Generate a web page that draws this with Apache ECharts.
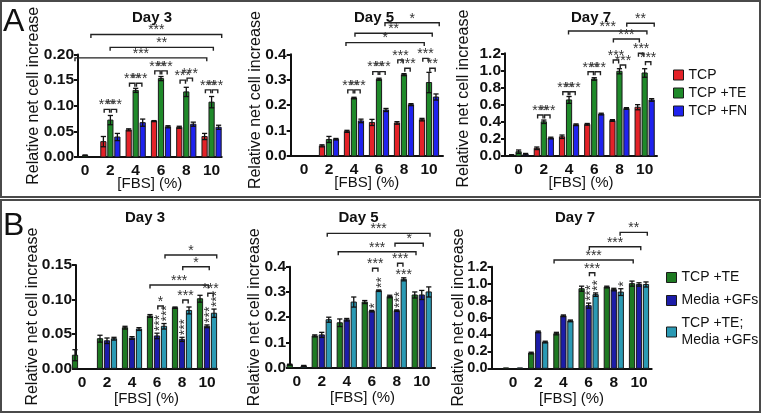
<!DOCTYPE html>
<html><head><meta charset="utf-8">
<script src="https://cdn.jsdelivr.net/npm/echarts@6/dist/echarts.min.js"></script>
<style>html,body{margin:0;padding:0;background:#fff}#c{width:762px;height:415px}</style>
</head><body><div id="c"></div>
<script>
// ---------- data ----------
const categories = ['0','2','4','6','8','10'];
const namesA = ['TCP','TCP +TE','TCP +FN'];
const namesB = ['TCP +TE','Media +GFs','TCP +TE; Media +GFs'];
const days = ['Day 3','Day 5','Day 7'];
const yTicksA3 = [0, 0.20, 0.05], yTicksA5 = [0, 0.4, 0.1], yTicksA7 = [0, 1.2, 0.2];
const yTicksB3 = [0, 0.15, 0.05], yTicksB5 = [0, 0.4, 0.1], yTicksB7 = [0, 1.2, 0.2];

// [mean, error] per FBS level
const A3_TCP = [[0,0],[0.030,0.010],[0.053,0.002],[0.070,0.001],[0.058,0.002],[0.040,0.006]];
const A3_TE  = [[0.003,0.001],[0.072,0.009],[0.130,0.004],[0.153,0.004],[0.127,0.009],[0.107,0.011]];
const A3_FN  = [[0,0],[0.039,0.007],[0.067,0.007],[0.059,0.002],[0.064,0.004],[0.058,0.004]];
const A5_TCP = [[0,0],[0.040,0.004],[0.097,0.004],[0.132,0.012],[0.130,0.005],[0.143,0.005]];
const A5_TE  = [[0,0],[0.065,0.012],[0.228,0.003],[0.302,0.004],[0.320,0.004],[0.289,0.040]];
const A5_FN  = [[0,0],[0.066,0.003],[0.138,0.007],[0.181,0.006],[0.202,0.004],[0.232,0.012]];
const A7_TCP = [[0.01,0.005],[0.09,0.015],[0.225,0.02],[0.37,0.01],[0.415,0.01],[0.57,0.03]];
const A7_TE  = [[0.05,0.02],[0.40,0.02],[0.655,0.04],[0.90,0.015],[0.99,0.03],[0.97,0.05]];
const A7_FN  = [[0.02,0.01],[0.21,0.01],[0.365,0.01],[0.49,0.01],[0.555,0.01],[0.655,0.015]];
const B3_TE   = [[0.019,0.008],[0.043,0.005],[0.059,0.002],[0.076,0.002],[0.088,0.001],[0.101,0.005]];
const B3_GF   = [[0,0],[0.040,0.004],[0.044,0.002],[0.047,0.004],[0.042,0.003],[0.061,0.002]];
const B3_TEGF = [[0,0],[0.043,0.002],[0.057,0.002],[0.061,0.004],[0.084,0.005],[0.080,0.006]];
const B5_TE   = [[0.012,0.002],[0.126,0.004],[0.178,0.015],[0.260,0.006],[0.282,0.005],[0.288,0.012]];
const B5_GF   = [[0,0],[0.130,0.010],[0.190,0.005],[0.224,0.003],[0.226,0.003],[0.288,0.018]];
const B5_TEGF = [[0.007,0.002],[0.190,0.010],[0.260,0.020],[0.305,0.003],[0.350,0.006],[0.300,0.020]];
const B7_TE   = [[0.005,0],[0.18,0.01],[0.41,0.015],[0.94,0.03],[0.96,0.01],[1.00,0.03]];
const B7_GF   = [[0,0],[0.43,0.01],[0.62,0.01],[0.74,0.03],[0.93,0.015],[0.99,0.02]];
const B7_TEGF = [[0.005,0],[0.31,0.01],[0.56,0.01],[0.87,0.02],[0.90,0.04],[0.99,0.03]];

// significance: pairs [group, seriesA, seriesB, height, label]; spans [fromPos, toPos, height, label]; marks [group, series, label, vertical]
const A3_pairs = [[1,0,1,0.093,'***'],[1,1,2,0.093,'***'],[2,0,1,0.144,'***'],[2,1,2,0.144,'***'],[3,0,1,0.168,'***'],[3,1,2,0.168,'***'],[4,0,1,0.150,'***'],[4,1,2,0.154,'***'],[5,0,1,0.131,'***'],[5,1,2,0.131,'***']];
const A3_spans = [[0.23,5.40,0.239,'***'],[0.99,5.07,0.214,'**'],[-0.40,4.81,0.1935,'***']];
const A5_pairs = [[2,0,1,0.260,'***'],[2,1,2,0.260,'***'],[3,0,1,0.332,'***'],[3,1,2,0.332,'***'],[4,0,1,0.378,'***'],[4,1,2,0.345,'***'],[5,0,1,0.384,'***'],[5,1,2,0.345,'**']];
const A5_spans = [[3.24,5.41,0.524,'*'],[2.04,5.13,0.483,'**'],[1.68,4.81,0.446,'*']];
const A7_pairs = [[1,0,1,0.479,'***'],[1,1,2,0.479,'***'],[2,0,1,0.751,'***'],[2,1,2,0.751,'***'],[3,0,1,0.985,'***'],[3,1,2,0.985,'***'],[4,0,1,1.122,'***'],[4,1,2,1.063,'***'],[5,0,1,1.20,'***'],[5,1,2,1.102,'***']];
const A7_spans = [[4.29,5.38,1.551,'**'],[1.98,5.09,1.461,'***'],[3.76,4.79,1.367,'***']];
const B3_pairs = [[3,1,2,0.0905,'*'],[4,1,2,0.0992,'***'],[5,1,2,0.1089,'***']];
const B3_spans = [[3.32,5.39,0.1645,'*'],[4.03,5.09,0.1475,'*'],[2.72,5.05,0.121,'***']];
const B3_marks = [[3,1,'***',1],[3,2,'***',1],[4,1,'***',1],[5,1,'***',1],[5,2,'***',1]];
const B5_pairs = [[3,1,2,0.394,'***'],[4,1,2,0.4135,'***']];
const B5_spans = [[1.22,5.33,0.532,'***'],[3.93,5.06,0.4927,'*'],[1.66,4.77,0.459,'***']];
const B5_marks = [[3,1,'*',1],[3,2,'**',1],[4,1,'***',1],[4,2,'***',0]];
const B7_pairs = [[3,1,2,1.129,'***']];
const B7_spans = [[4.25,5.33,1.606,'**'],[3.03,5.07,1.436,'***'],[1.63,4.77,1.279,'***']];
const B7_marks = [[3,1,'***',1],[3,2,'**',1],[4,2,'*',1]];

// ---------- styling / layout ----------
const FONT = 'Liberation Sans, Arial, Helvetica, sans-serif';
const colorsA = ['#e42228','#1f8a2a','#1f22ee'];
const colorsB = ['#1e7a22','#1c1ca8','#2b9ab4'];
const OFF = 7, BW = 5.2, INK = '#111';

const panels = [
  {grid:{left:78, top:54.5, width:143.7, height:102.5}, x:[-0.28,5.40], y:yTicksA3, dec:2, data:[A3_TCP,A3_TE,A3_FN], names:namesA, colors:colorsA, pairs:A3_pairs, spans:A3_spans, marks:[], gap:36, xgap:19, shift:20, title:[152,18], day:0},
  {grid:{left:290.7, top:54.3, width:152.3, height:101.7}, x:[-0.53,5.56], y:yTicksA5, dec:1, data:[A5_TCP,A5_TE,A5_FN], names:namesA, colors:colorsA, pairs:A5_pairs, spans:A5_spans, marks:[], gap:27, xgap:19, shift:10, title:[374,18], day:1},
  {grid:{left:505, top:53.3, width:152, height:102.7}, x:[-0.54,5.49], y:yTicksA7, dec:1, data:[A7_TCP,A7_TE,A7_FN], names:namesA, colors:colorsA, pairs:A7_pairs, spans:A7_spans, marks:[], gap:33, xgap:19, shift:12, title:[591,18], day:2},
  {grid:{left:76, top:265, width:141, height:103.3}, x:[-0.24,5.40], y:yTicksB3, dec:2, data:[B3_TE,B3_GF,B3_TEGF], names:namesB, colors:colorsB, pairs:B3_pairs, spans:B3_spans, marks:B3_marks, gap:35, xgap:23, shift:0, title:[145,218], day:0},
  {grid:{left:290, top:266.7, width:145, height:101}, x:[-0.27,5.53], y:yTicksB5, dec:1, data:[B5_TE,B5_GF,B5_TEGF], names:namesB, colors:colorsB, pairs:B5_pairs, spans:B5_spans, marks:B5_marks, gap:27, xgap:23, shift:0, title:[358.5,218], day:1},
  {grid:{left:491.5, top:266.7, width:160.2, height:101.6}, x:[-0.853,5.504], y:yTicksB7, dec:1, data:[B7_TE,B7_GF,B7_TEGF], names:namesB, colors:colorsB, pairs:B7_pairs, spans:B7_spans, marks:B7_marks, gap:25, xgap:23, shift:0, title:[575,218], day:2}
];

function barSeries(gi, name, rows, k, color){
  return {
    type:'custom', name, xAxisIndex:gi, yAxisIndex:gi, clip:false, z:3,
    itemStyle:{color},
    data: rows.map((d,i)=>[i,d[0],d[1]]),
    encode:{x:0,y:1},
    renderItem(params, api){
      const i=api.value(0), v=api.value(1), e=api.value(2);
      if(!(v>0)) return null;
      const b=api.coord([i,0]), t=api.coord([i,v]);
      const x=b[0]+(k-1)*OFF;
      const ch=[{type:'rect', shape:{x:x-BW/2, y:t[1], width:BW, height:Math.max(0.8,b[1]-t[1])}, style:{fill:color, stroke:'#1b1b1b', lineWidth:1}}];
      if(e>0){
        const hi=api.coord([i,v+e])[1], lo=api.coord([i,Math.max(0,v-e)])[1];
        const st={stroke:INK, lineWidth:1.3};
        ch.push({type:'line', shape:{x1:x,y1:hi,x2:x,y2:lo}, style:st});
        ch.push({type:'line', shape:{x1:x-2.6,y1:hi,x2:x+2.6,y2:hi}, style:st});
        ch.push({type:'line', shape:{x1:x-2.6,y1:lo,x2:x+2.6,y2:lo}, style:st});
      }
      return {type:'group', children:ch};
    }
  };
}

function starText(x,y,label,vertical){
  return {type:'text', x, y, rotation: vertical? Math.PI/2 : 0,
    style:{text:label, fill:'#333', font:'14px '+FONT, align: vertical?'left':'center', verticalAlign:'middle'}};
}

function sigSeries(gi, p){
  const items=[];
  p.pairs.forEach(r=>items.push({k:'p',r}));
  p.spans.forEach(r=>items.push({k:'s',r}));
  p.marks.forEach(r=>items.push({k:'m',r}));
  return {
    type:'custom', xAxisIndex:gi, yAxisIndex:gi, clip:false, silent:true, z:4,
    data: items.map(()=>[0,0]),
    renderItem(params, api){
      const it=items[params.dataIndex], r=it.r;
      const st={stroke:'#222', lineWidth:1.4, fill:'none'};
      if(it.k==='m'){
        const d=p.data[r[1]][r[0]];
        const top=api.coord([r[0], d[0]+d[1]]);
        const x=top[0]+(r[1]-1)*OFF;
        if(r[3]) return starText(x+3, top[1]-2, r[2], true);
        return starText(x, top[1]-3, r[2], false);
      }
      let x1,x2,y;
      if(it.k==='p'){
        const c=api.coord([r[0], r[3]]);
        x1=c[0]+(r[1]-1)*OFF+0.8; x2=c[0]+(r[2]-1)*OFF-0.8; y=c[1];
      } else {
        const c1=api.coord([r[0], r[2]]), c2=api.coord([r[1], r[2]]);
        x1=c1[0]; x2=c2[0]; y=c1[1];
      }
      const label = it.k==='p'? r[4] : r[3];
      return {type:'group', children:[
        {type:'polyline', shape:{points:[[x1,y+3.5],[x1,y],[x2,y],[x2,y+3.5]]}, style:st},
        starText((x1+x2)/2, y-4, label, false)
      ]};
    }
  };
}

const grid=[], xAxis=[], yAxis=[], series=[];
panels.forEach((p,gi)=>{
  grid.push(Object.assign({containLabel:false}, p.grid));
  xAxis.push({gridIndex:gi, type:'value', min:p.x[0], max:p.x[1],
    axisLine:{show:true, onZero:false, lineStyle:{color:INK, width:2}},
    axisTick:{show:false}, splitLine:{show:false},
    axisLabel:{customValues:[0,1,2,3,4,5], formatter:v=>categories[Math.round(v)], fontWeight:'bold', fontSize:15.5, color:INK, margin:6, fontFamily:FONT},
    name:'[FBS] (%)', nameLocation:'middle', nameGap:p.xgap, nameMoveOverlap:false, nameTextStyle:{fontSize:15, color:INK, fontFamily:FONT}});
  yAxis.push({gridIndex:gi, type:'value', min:p.y[0], max:p.y[1], interval:p.y[2],
    axisLine:{show:true, onZero:false, lineStyle:{color:INK, width:2}},
    axisTick:{show:true, length:4, lineStyle:{color:INK, width:2}}, splitLine:{show:false},
    axisLabel:{formatter:v=>v.toFixed(p.dec), fontWeight:'bold', fontSize:gi===5?14.5:15.5, color:INK, margin:4, fontFamily:FONT},
    name:'Relative net cell increase', nameLocation:'middle', nameGap:p.gap, nameMoveOverlap:false,
    nameTextStyle:{fontSize:16, color:INK, fontFamily:FONT, padding:[0,0,0,p.shift]}});
  p.data.forEach((rows,k)=>series.push(barSeries(gi, p.names[k], rows, k, p.colors[k])));
  series.push(sigSeries(gi,p));
});

const graphic=[
  {type:'rect', shape:{x:1,y:1,width:759,height:196}, style:{fill:'none', stroke:'#4a4a4a', lineWidth:2}},
  {type:'rect', shape:{x:1,y:200,width:759,height:212}, style:{fill:'none', stroke:'#4a4a4a', lineWidth:2}},
  {type:'text', x:3, y:22, style:{text:'A', font:'32px '+FONT, fill:INK, verticalAlign:'middle'}},
  {type:'text', x:3, y:226, style:{text:'B', font:'32px '+FONT, fill:INK, verticalAlign:'middle'}}
];
panels.forEach(p=>graphic.push({type:'text', x:p.title[0], y:p.title[1], style:{text:days[p.day], font:'bold 15px '+FONT, fill:INK, align:'center', verticalAlign:'middle'}}));

function legendData(names, colors){
  return names.map((n,i)=>({name:n, icon:'rect', itemStyle:{color:colors[i], borderColor:'#1b1b1b', borderWidth:1}}));
}

const chart=echarts.init(document.getElementById('c'), null, {renderer:'canvas'});
chart.setOption({
  animation:false,
  textStyle:{fontFamily:FONT},
  grid, xAxis, yAxis, series, graphic,
  legend:[
    {orient:'vertical', left:668, top:62, itemWidth:10, itemHeight:10, itemGap:2, selectedMode:false,
      data:legendData(namesA, colorsA), textStyle:{fontSize:14, color:INK, lineHeight:16}},
    {orient:'vertical', left:661, top:264, itemWidth:10, itemHeight:10, itemGap:6, selectedMode:false,
      data:legendData(namesB, colorsB), formatter:n=>n.replace('; ',';\n'), textStyle:{fontSize:14, color:INK, lineHeight:17}}
  ]
});
</script></body></html>
